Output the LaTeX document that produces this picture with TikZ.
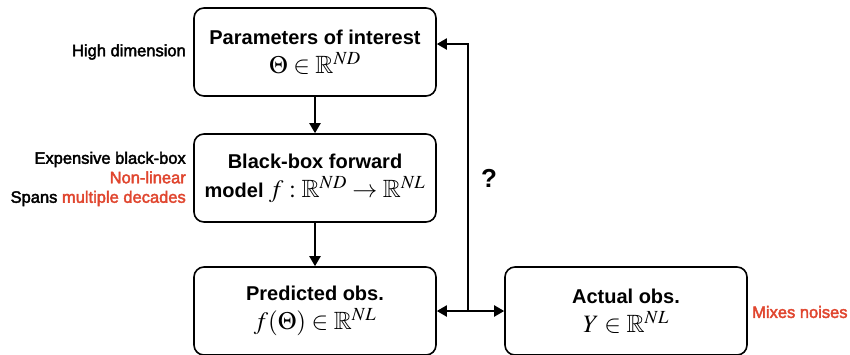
\documentclass[tikz,border=0pt]{standalone}
\usepackage{mathptmx}
\usepackage{amssymb}
\usepackage{fontspec}
\setmainfont{Liberation Sans}
\newfontfamily\medsans{Liberation Sans}[FakeBold=2.5]
\usetikzlibrary{arrows.meta}
\definecolor{myred}{HTML}{E0462F}
\newcommand{\mth}[1]{{\mdseries\fontsize{25}{29}\selectfont$#1$}}
\begin{document}
\begin{tikzpicture}[x=1pt,y=-1pt,
  box/.style={draw, line width=1.6pt, rounded corners=10pt, minimum width=242pt,
    minimum height=88pt, align=center, inner sep=0pt,
    font=\bfseries\fontsize{20}{29}\selectfont},
  side/.style={font=\medsans\fontsize{16.5}{19.5}\selectfont, inner sep=0pt, align=right},
  arr/.style={line width=2pt, -{Triangle[length=10pt,width=11pt]}},
  darr/.style={line width=2pt, {Triangle[length=10pt,width=11pt]}-{Triangle[length=10pt,width=11pt]}}]
\useasboundingbox (0,0) rectangle (850,354);
\node[box] (p) at (315,52) {Parameters of interest\\ \mth{\Theta\in\mathbb{R}^{ND}}};
\node[box] (b) at (315,178) {Black-box forward\\ model \mth{f:\mathbb{R}^{ND}\rightarrow\mathbb{R}^{NL}}};
\node[box] (pr) at (315,311) {Predicted obs.\\ \mth{f(\Theta)\in\mathbb{R}^{NL}}};
\node[box] (a) at (626,311) {Actual obs.\\ \mth{Y\in\mathbb{R}^{NL}}};
\coordinate (j) at (468,311);
\draw[arr] (p) -- (b);
\draw[arr] (b) -- (pr);
\draw[darr] (pr) -- (a);
\draw[arr] (j) |- ([yshift=8pt]p.east);
\node[font=\bfseries\fontsize{26}{28}\selectfont, inner sep=0pt] (q) at (489,178) {?};
\node[side, anchor=east] (hd) at (186,52) {High dimension};
\node[side, anchor=east] (bl) at (186,179) {Expensive black-box\\ \textcolor{myred}{Non-linear}\\ Spans \textcolor{myred}{multiple decades}};
\node[side, anchor=west, text=myred] (mn) at (752,312) {Mixes noises};
\end{tikzpicture}
\end{document}
